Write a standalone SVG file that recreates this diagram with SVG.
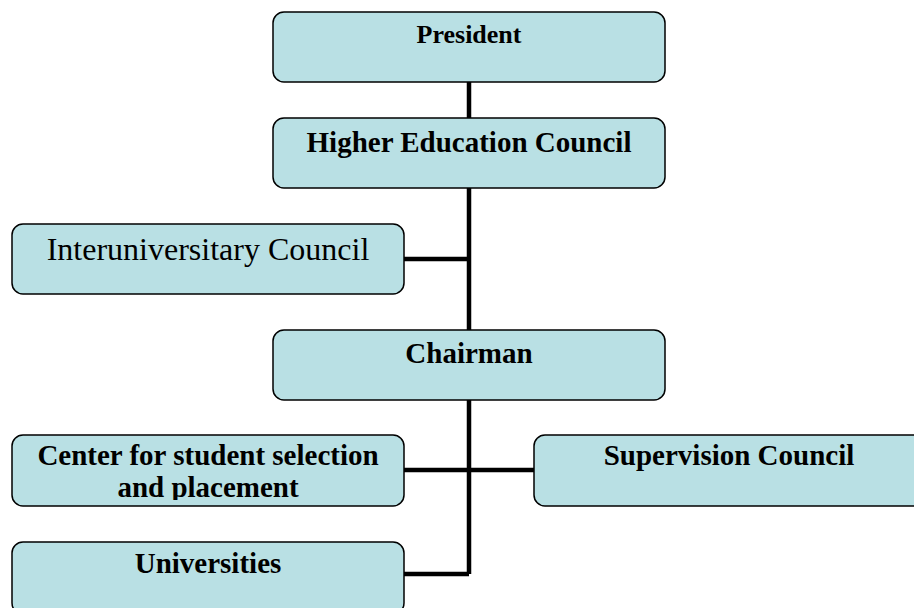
<svg xmlns="http://www.w3.org/2000/svg" width="914" height="608" viewBox="0 0 914 608">
<style>
.box{fill:#b9e0e4;stroke:#000;stroke-width:1.5}
.t{font-family:"Liberation Serif","Times New Roman",serif;fill:#000;text-anchor:middle}
.b{font-weight:bold;font-size:29px}
.conn{stroke:#000;stroke-width:4.5;fill:none}
</style>
<defs>
<clipPath id="cc"><rect x="12" y="435" width="392" height="65"/></clipPath>
</defs>
<rect width="914" height="608" fill="#fff"/>
<g id="connectors">
<path class="conn" d="M469 82V118M469 188V330M469 400V574M404 259H469M404 470H535M404 574H469"/>
</g>
<g id="president">
<rect class="box" x="273" y="12" width="392" height="70" rx="11"/>
<text class="t" x="469" y="43" font-size="26" font-weight="bold">President</text>
</g>
<g id="hec">
<rect class="box" x="273" y="118" width="392" height="70" rx="11"/>
<text class="t b" x="469" y="152">Higher Education Council</text>
</g>
<g id="interuniversitary">
<rect class="box" x="12" y="224" width="392" height="70" rx="11"/>
<text class="t" x="208" y="260" font-size="32">Interuniversitary Council</text>
</g>
<g id="chairman">
<rect class="box" x="273" y="330" width="392" height="70" rx="11"/>
<text class="t b" x="469" y="363">Chairman</text>
</g>
<g id="center">
<rect class="box" x="12" y="435" width="392" height="71" rx="11"/>
<g clip-path="url(#cc)">
<text class="t b" x="208" y="465">Center for student selection</text>
<text class="t b" x="208" y="497">and placement</text>
</g>
</g>
<g id="supervision">
<rect class="box" x="534" y="435" width="390" height="71" rx="11"/>
<text class="t b" x="729" y="465">Supervision Council</text>
</g>
<g id="universities">
<rect class="box" x="12" y="542" width="392" height="72" rx="11"/>
<text class="t b" x="208" y="573">Universities</text>
</g>
</svg>
